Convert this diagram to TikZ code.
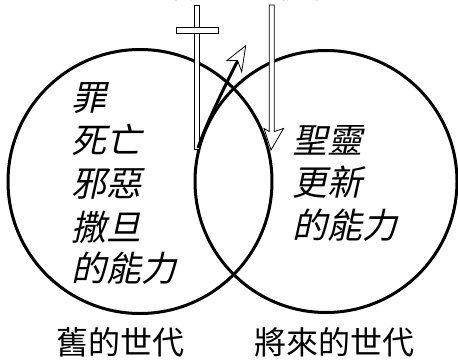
\documentclass[tikz,border=0pt]{standalone}
\usepackage{fontspec}
\newfontfamily\cjk{Noto Sans CJK TC}
\newfontfamily\cjkit[FakeSlant=0.22]{Noto Sans CJK TC}
\begin{document}
\begin{tikzpicture}[x=1pt,y=-1pt,
  ring/.style={line width=3pt},
  slab/.style={draw=black,fill=white,line width=0.8pt,line join=miter},
  itxt/.style={inner sep=0pt,anchor=base west,font=\cjkit\fontsize{35}{35}\selectfont},
  utxt/.style={inner sep=0pt,anchor=base west,font=\cjk\fontsize{32}{32}\selectfont}]
\useasboundingbox (0,0) rectangle (458,362);
\clip (0,0) rectangle (458,362);
% top title (clipped by the picture edge, as in the reference)
\node[inner sep=0pt,anchor=base,font=\cjk\fontsize{27}{27}\selectfont] (title) at (238,-2) {基督的死與復活};
% circles
\draw[ring] (140,181.5) circle[radius=132pt];
\draw[ring] (326,181.5) circle[radius=131pt];
% cross
\draw[slab] (194.3,5) rectangle (199.4,149);
\draw[slab] (176,27) rectangle (218,33);
% descending hollow arrow
\draw[slab] (269.3,5) -- (274.3,5) -- (274.3,131.5) -- (283.5,128.5) -- (271,150) -- (264,128.5) -- (269.3,131.5) -- cycle;
% rising black arrow
\coordinate (rs) at (198,148);
\coordinate (re) at (237.5,61);
\draw[line width=3pt] (rs) .. controls (206,124) and (224,88) .. (re);
\draw[slab] (245.7,45.7) -- (241.7,71.7) -- (237.6,60.5) -- (226.7,60.7) -- cycle;
% left texts
\node[itxt] (a1) at (71,110) {罪};
\node[itxt] (a2) at (71,153) {死亡};
\node[itxt] (a3) at (71,196) {邪惡};
\node[itxt] (a4) at (71,240) {撒旦};
\node[itxt] (a5) at (71,281) {的能力};
% right texts
\node[itxt] (b1) at (292,153) {聖靈};
\node[itxt] (b2) at (292,195) {更新};
\node[itxt] (b3) at (292,238) {的能力};
% bottom labels
\node[utxt] (c1) at (56,354) {舊的世代};
\node[utxt] (c2) at (254,354) {將來的世代};
\end{tikzpicture}
\end{document}
